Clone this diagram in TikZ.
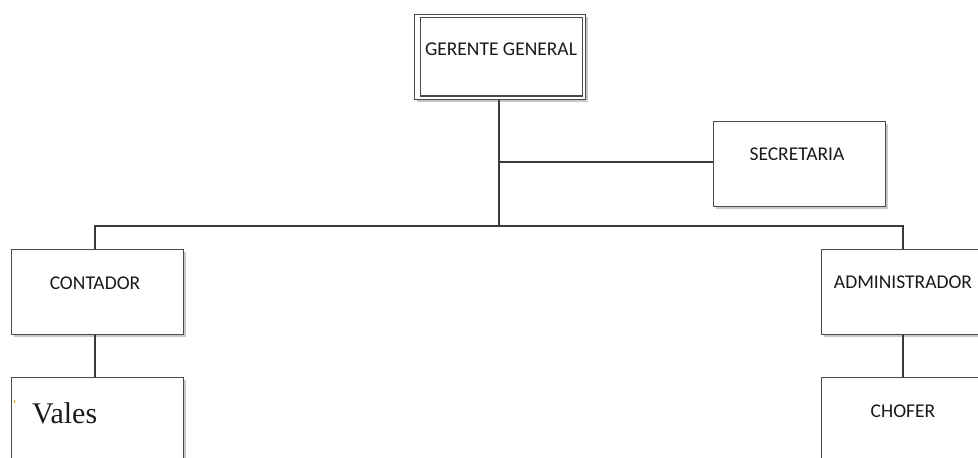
\documentclass[tikz,border=0pt]{standalone}
\usepackage{fontspec}
\setmainfont{Carlito}
\newfontfamily\valesfont{Liberation Serif}
\definecolor{boxgray}{HTML}{4A4A4A}
\definecolor{linegray}{HTML}{3A3A3A}
\definecolor{shadowgray}{HTML}{C8C8C8}
\definecolor{txt}{HTML}{1A1A1A}
\begin{document}
\begin{tikzpicture}[x=1pt,y=-1pt,
  box/.style={draw=boxgray, line width=1.4pt, fill=white, inner sep=0pt, anchor=north west,
    minimum width=172pt, minimum height=85pt,
    preaction={fill=shadowgray, transform canvas={shift={(2.5pt,-2.5pt)}}}},
  lbl/.style={anchor=base, inner sep=0pt, text=txt, font=\fontsize{19.5}{23}\selectfont},
  conn/.style={draw=linegray, line width=2.6pt}]
\useasboundingbox (0,0) rectangle (978,458);
\clip (0,0) rectangle (978,458);
\fill[white] (0,0) rectangle (978,458);
% boxes
\node[box, minimum width=171pt, minimum height=85pt] (gg) at (414,14) {};
\draw[boxgray, line width=1.4pt] (420.5,17.5) rectangle (582.5,96);
\node[box] (sec) at (713,121) {};
\node[box] (cont) at (11,249) {};
\node[box] (admin) at (821,249) {};
\node[box, minimum height=120pt] (vales) at (11,377) {};
\node[box, minimum height=120pt] (chofer) at (821,377) {};
% labels
\node[lbl] (tgg) at (501,55) {GERENTE GENERAL};
\node[lbl] (tsec) at (797,160) {SECRETARIA};
\node[lbl] (tcont) at (95,289) {CONTADOR};
\node[lbl] (tadmin) at (903,288) {ADMINISTRADOR};
\node[lbl] (tchofer) at (903,417) {CHOFER};
\node[anchor=base west, inner sep=0pt, text=txt, font=\valesfont\fontsize{30}{34}\selectfont] (tvales) at (32,423) {Vales};
\fill[orange] (13.5,400) rectangle (15,403);
% connectors
\coordinate (bus) at (499,226);
\coordinate (jsec) at (499,162);
\draw[conn] (gg.south -| bus) -- (bus);
\draw[conn] (jsec) -- (sec.west |- jsec);
\draw[conn] (cont.north -| 95,0) |- (bus) -| (admin.north -| 903,0);
\draw[conn] (cont.south -| 95,0) -- (vales.north -| 95,0);
\draw[conn] (admin.south -| 903,0) -- (chofer.north -| 903,0);
\end{tikzpicture}
\end{document}
